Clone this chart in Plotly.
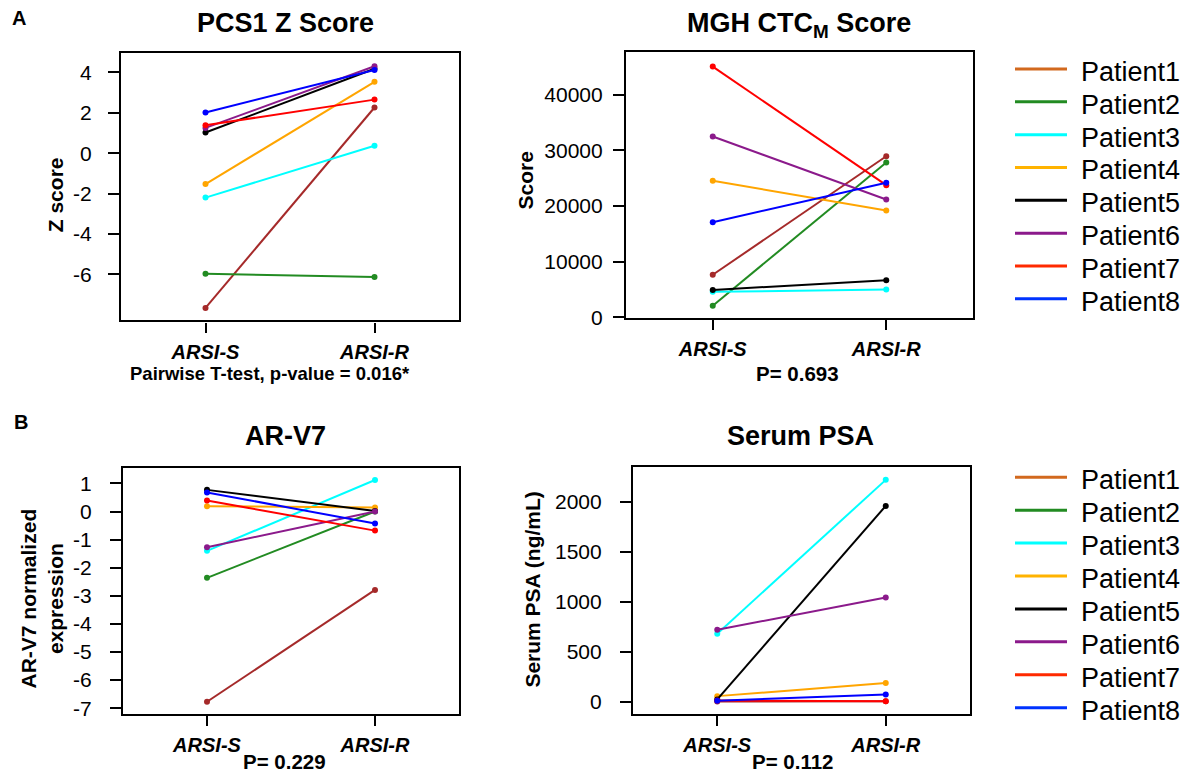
import plotly.graph_objects as go

FW, FH = 1187, 784

groups = ["ARSI-S", "ARSI-R"]
patients = ["Patient1", "Patient2", "Patient3", "Patient4",
            "Patient5", "Patient6", "Patient7", "Patient8"]
line_colors = ["#A52A2A", "#228B22", "#00FFFF", "#FFA500",
               "#000000", "#8B1A8B", "#FF0000", "#0000FF"]
legend_colors = ["#D2691E", "#228B22", "#00FFFF", "#FFB300",
                 "#000000", "#8B1A8B", "#FF2A00", "#0033FF"]

# PCS1 Z score: [ARSI-S, ARSI-R] per patient
pcs1 = [[-7.66, 2.26], [-5.97, -6.13], [-2.20, 0.37], [-1.53, 3.53],
        [1.02, 4.18], [1.25, 4.30], [1.38, 2.65], [2.01, 4.12]]
# MGH CTC_M score
mgh = [[7660, 28930], [2120, 27800], [4600, 5000], [24520, 19210],
       [4950, 6660], [32470, 21160], [45020, 23740], [17090, 24160]]
# AR-V7 normalized expression
arv7 = [[-6.77, -2.79], [-2.36, 0.0], [-1.40, 1.12], [0.19, 0.14],
        [0.77, 0.02], [-1.27, 0.0], [0.39, -0.68], [0.68, -0.43]]
# Serum PSA (ng/mL)
psa = [[2, 5], [None, None], [680, 2217], [56, 187],
       [23, 1957], [719, 1041], [12, 6], [10, 72]]

pcs1_ticks = [-6, -4, -2, 0, 2, 4]
mgh_ticks = [0, 10000, 20000, 30000, 40000]
arv7_ticks = [-7, -6, -5, -4, -3, -2, -1, 0, 1]
psa_ticks = [0, 500, 1000, 1500, 2000]

FONT = "Liberation Sans, Arial, sans-serif"


def fx(p):
    return p / FW


def fy(p):
    return 1 - p / FH


def dom_x(a, b):
    return [fx(a), fx(b)]


def dom_y(top, bottom):
    return [fy(bottom), fy(top)]


def labels(vals):
    return [str(v) for v in vals]


fig = go.Figure()

panels = [("x", "y", pcs1), ("x2", "y2", mgh),
          ("x3", "y3", arv7), ("x4", "y4", psa)]

for xa, ya, data in panels:
    for i, name in enumerate(patients):
        fig.add_trace(go.Scatter(
            x=groups, y=data[i], xaxis=xa, yaxis=ya,
            mode="lines+markers", name=name, showlegend=False,
            line=dict(color=line_colors[i], width=2),
            marker=dict(color=line_colors[i], size=6),
        ))

axis_common = dict(
    showline=True, mirror=True, linecolor="black", linewidth=2.2,
    ticks="outside", tickcolor="black", tickwidth=2, showgrid=False,
    zeroline=False,
)
xcommon = dict(axis_common, type="category", range=[-0.5, 1.5], ticklen=10,
               tickfont=dict(family=FONT, size=20, color="black",
                             weight="bold", style="italic"),
               ticklabelstandoff=2)
ytf = dict(family=FONT, size=21, color="black")

fig.update_layout(
    xaxis=dict(xcommon, domain=dom_x(121, 459), anchor="y"),
    yaxis=dict(axis_common, domain=dom_y(53.3, 325), anchor="x",
               range=[-8.28, 4.98], tickvals=pcs1_ticks,
               ticktext=labels(pcs1_ticks), ticklen=11,
               ticklabelstandoff=12, tickfont=ytf),
    xaxis2=dict(xcommon, domain=dom_x(626, 973), anchor="y2"),
    yaxis2=dict(axis_common, domain=dom_y(52.7, 322.7), anchor="x2",
                range=[-124, 47640], tickvals=mgh_ticks,
                ticktext=labels(mgh_ticks), ticklen=11,
                ticklabelstandoff=6, tickfont=ytf),
    xaxis3=dict(xcommon, domain=dom_x(123, 459), anchor="y3"),
    yaxis3=dict(axis_common, domain=dom_y(474.5, 724), anchor="x3",
                range=[-7.2, 1.554], tickvals=arv7_ticks,
                ticktext=labels(arv7_ticks), ticklen=11,
                ticklabelstandoff=14, tickfont=ytf),
    xaxis4=dict(xcommon, domain=dom_x(633, 970), anchor="y4"),
    yaxis4=dict(axis_common, domain=dom_y(473.5, 724.3), anchor="x4",
                range=[-124, 2347], tickvals=psa_ticks,
                ticktext=labels(psa_ticks), ticklen=11,
                ticklabelstandoff=14, tickfont=ytf),
)


def ann(text, x, y, size, bold=True, angle=0, xanchor="center"):
    fig.add_annotation(
        text=text, x=fx(x), y=fy(y), xref="paper", yref="paper",
        xanchor=xanchor, yanchor="middle", showarrow=False,
        textangle=angle,
        font=dict(family=FONT, size=size, color="black",
                  weight="bold" if bold else "normal"),
    )


# legends (one per row)
for y0, step in [(70, 33.3), (484, 33.4)]:
    for i, name in enumerate(patients):
        yy = y0 + i * step
        fig.add_shape(type="line", xref="paper", yref="paper",
                      x0=fx(1015), x1=fx(1067), y0=fy(yy), y1=fy(yy),
                      line=dict(color=legend_colors[i], width=3))
        ann(name, 1079, yy + 3, 27, bold=False, xanchor="left")

# panel letters
ann("A", 19, 18, 20)
ann("B", 21, 428, 20)
# titles
ann("PCS1 Z Score", 285, 23, 27)
ann("MGH CTC<sub>M</sub> Score", 799, 25, 27)
ann("AR-V7", 285, 442, 27)
ann("Serum PSA", 800, 442, 27)
# y titles
ann("Z score", 55, 198, 21, angle=-90)
ann("Score", 525, 183, 21, angle=-90)
ann("AR-V7 normalized<br>expression", 42, 607, 21, angle=-90)
ann("Serum PSA (ng/mL)", 533, 598, 21, angle=-90)
# p-values
ann("Pairwise T-test, p-value = 0.016*", 270, 379, 18.5)
ann("P= 0.693", 797, 379, 20.5)
ann("P= 0.229", 284, 772, 20.5)
ann("P= 0.112", 793, 772, 20.5)

fig.update_layout(
    width=FW, height=FH,
    margin=dict(l=0, r=0, t=0, b=0),
    paper_bgcolor="white", plot_bgcolor="white",
    font=dict(family=FONT, color="black"),
    showlegend=False,
)

fig.write_html(
    "out.html",
    config={"displayModeBar": False},
    post_script="document.body.style.margin='0';"
                "document.body.style.overflow='hidden';",
)
